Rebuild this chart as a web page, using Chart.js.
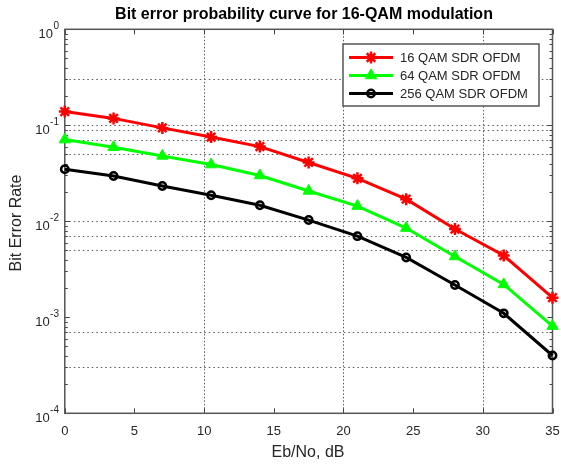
<!DOCTYPE html>
<html>
<head>
<meta charset="utf-8">
<script src="https://cdn.jsdelivr.net/npm/chart.js@4.4.1/dist/chart.umd.min.js"></script>
<style>
  html, body { margin: 0; padding: 0; background: #fff; }
  canvas { display: block; }
</style>
</head>
<body>
<canvas id="ber" width="561" height="465"></canvas>
<script>
const ebNo = [0, 3.5, 7, 10.5, 14, 17.5, 21, 24.5, 28, 31.5, 35]
const ber16 = [0.139, 0.118, 0.094, 0.0755, 0.060, 0.041, 0.028, 0.017, 0.0083, 0.0044, 0.0016]
const ber64 = [0.071, 0.059, 0.048, 0.039, 0.030, 0.0207, 0.0144, 0.0085, 0.0043, 0.0022, 0.00081]
const ber256 = [0.0348, 0.0296, 0.0233, 0.0187, 0.0147, 0.0103, 0.0070, 0.0042, 0.00217, 0.0011, 0.0004]
const seriesNames = ['16 QAM SDR OFDM', '64 QAM SDR OFDM', '256 QAM SDR OFDM']

const xTicks = [0, 5, 10, 15, 20, 25, 30, 35]
const xGrid = [10, 20, 30]
const yDecades = [0, -1, -2, -3, -4]
const yGrid = [0.3, 0.1, 0.09, 0.07, 0.05, 0.01, 0.007, 0.005, 0.0007, 0.0003]

const titleText = 'Bit error probability curve for 16-QAM modulation'
const xTitle = 'Eb/No, dB'
const yTitle = 'Bit Error Rate'

const FONT = '"Liberation Sans", Arial, sans-serif'
const TEXT = '#262626'

const pts = vals => ebNo.map((x, i) => ({ x, y: vals[i] }))

function seg(ctx, x1, y1, x2, y2) {
  ctx.beginPath()
  ctx.moveTo(x1, y1)
  ctx.lineTo(x2, y2)
  ctx.stroke()
}

// matlab style box, inner ticks, dotted grid and labels
const matlabAxes = {
  id: 'matlabAxes',
  beforeDatasetsDraw(chart) {
    const { ctx, chartArea: a, scales: { x, y } } = chart
    ctx.save()

    // grid
    ctx.strokeStyle = '#5a5a5a'
    ctx.lineWidth = 1
    ctx.setLineDash([1.5, 3])
    yGrid.forEach(v => {
      const py = Math.round(y.getPixelForValue(v)) + 0.5
      seg(ctx, a.left, py, a.right, py)
    })
    ctx.setLineDash([1.5, 2])
    xGrid.forEach(v => {
      const px = Math.round(x.getPixelForValue(v)) + 0.5
      seg(ctx, px, a.top, px, a.bottom)
    })
    ctx.setLineDash([])

    // ticks
    ctx.strokeStyle = '#444'
    ctx.lineWidth = 1
    xTicks.forEach(v => {
      const px = Math.round(x.getPixelForValue(v)) + 0.5
      seg(ctx, px, a.bottom, px, a.bottom - 5)
      seg(ctx, px, a.top, px, a.top + 5)
    })
    yDecades.forEach(d => {
      const py = Math.round(y.getPixelForValue(Math.pow(10, d))) + 0.5
      seg(ctx, a.left, py, a.left + 5, py)
      seg(ctx, a.right, py, a.right - 5, py)
    })
    for (let d = -4; d < 0; d++) {
      for (let k = 2; k <= 9; k++) {
        const py = Math.round(y.getPixelForValue(k * Math.pow(10, d))) + 0.5
        seg(ctx, a.left, py, a.left + 3, py)
        seg(ctx, a.right, py, a.right - 3, py)
      }
    }

    // box
    ctx.strokeStyle = '#555'
    ctx.lineWidth = 1.5
    ctx.strokeRect(a.left, a.top, a.right - a.left, a.bottom - a.top)

    // x tick labels
    ctx.fillStyle = TEXT
    ctx.font = '13px ' + FONT
    ctx.textAlign = 'center'
    ctx.textBaseline = 'middle'
    xTicks.forEach(v => ctx.fillText(String(v), x.getPixelForValue(v), 431))

    // y tick labels 10^d
    yDecades.forEach(d => {
      const py = y.getPixelForValue(Math.pow(10, d))
      const sup = String(d)
      ctx.font = '10px ' + FONT
      const sw = ctx.measureText(sup).width
      ctx.textAlign = 'left'
      ctx.fillText(sup, 59 - sw, py - 3)
      ctx.font = '13px ' + FONT
      ctx.textAlign = 'right'
      ctx.fillText('10', 59 - sw - 0.5, py + 5)
    })

    // titles
    ctx.textAlign = 'center'
    ctx.font = 'bold 16px ' + FONT
    ctx.fillStyle = '#000'
    ctx.fillText(titleText, 304, 15)
    ctx.fillStyle = TEXT
    ctx.font = '16px ' + FONT
    ctx.fillText(xTitle, 308, 453)
    ctx.translate(17, 223)
    ctx.rotate(-Math.PI / 2)
    ctx.fillText(yTitle, 0, 0)
    ctx.restore()
  },
  afterDraw(chart) {
    // legend box with line + marker samples
    const { ctx } = chart
    const box = { l: 343, t: 44, r: 539, b: 106 }
    ctx.save()
    ctx.fillStyle = '#fff'
    ctx.fillRect(box.l, box.t, box.r - box.l, box.b - box.t)
    ctx.strokeStyle = '#555'
    ctx.lineWidth = 1.5
    ctx.strokeRect(box.l, box.t, box.r - box.l, box.b - box.t)
    const rows = [57.5, 75.5, 93.5]
    chart.data.datasets.forEach((ds, i) => {
      const yy = rows[i]
      ctx.strokeStyle = ds.borderColor
      ctx.lineWidth = ds.borderWidth
      seg(ctx, 349, yy, 393, yy)
      ctx.fillStyle = ds.pointBackgroundColor
      ctx.strokeStyle = ds.pointBorderColor
      ctx.lineWidth = ds.pointBorderWidth
      Chart.helpers.drawPoint(ctx, {
        pointStyle: ds.pointStyle,
        radius: ds.pointRadius,
        borderWidth: ds.pointBorderWidth,
        rotation: 0
      }, 371, yy)
      ctx.fillStyle = TEXT
      ctx.font = '13px ' + FONT
      ctx.textAlign = 'left'
      ctx.textBaseline = 'middle'
      ctx.fillText(ds.label, 400, yy + 0.5)
    })
    ctx.restore()
  }
}

new Chart(document.getElementById('ber'), {
  type: 'line',
  data: {
    datasets: [
      {
        label: seriesNames[0],
        data: pts(ber16),
        borderColor: '#ff0000',
        borderWidth: 3,
        pointStyle: 'star',
        pointRadius: 6,
        pointBorderWidth: 2.5,
        pointBorderColor: '#ff0000',
        pointBackgroundColor: '#ff0000',
        clip: false
      },
      {
        label: seriesNames[1],
        data: pts(ber64),
        borderColor: '#00ff00',
        borderWidth: 3,
        pointStyle: 'triangle',
        pointRadius: 6.5,
        pointBorderWidth: 1,
        pointBorderColor: '#00ff00',
        pointBackgroundColor: '#00ff00',
        clip: false
      },
      {
        label: seriesNames[2],
        data: pts(ber256),
        borderColor: '#000000',
        borderWidth: 3,
        pointStyle: 'circle',
        pointRadius: 3.7,
        pointBorderWidth: 2.5,
        pointBorderColor: '#000000',
        pointBackgroundColor: 'rgba(0,0,0,0)',
        clip: false
      }
    ]
  },
  options: {
    responsive: false,
    devicePixelRatio: 1,
    animation: false,
    layout: {
      padding: { top: 29.3, right: 7.5, left: 0, bottom: 0 }
    },
    elements: {
      line: { tension: 0 }
    },
    scales: {
      x: {
        type: 'linear',
        min: 0,
        max: 35,
        grid: { display: false },
        border: { display: false },
        ticks: { display: false },
        afterFit: s => { s.height = 51.7 }
      },
      y: {
        type: 'logarithmic',
        min: 1e-4,
        max: 1,
        grid: { display: false },
        border: { display: false },
        ticks: { display: false },
        afterFit: s => { s.width = 64.8 }
      }
    },
    plugins: {
      legend: { display: false },
      tooltip: { enabled: false }
    }
  },
  plugins: [matlabAxes]
})
</script>
</body>
</html>
